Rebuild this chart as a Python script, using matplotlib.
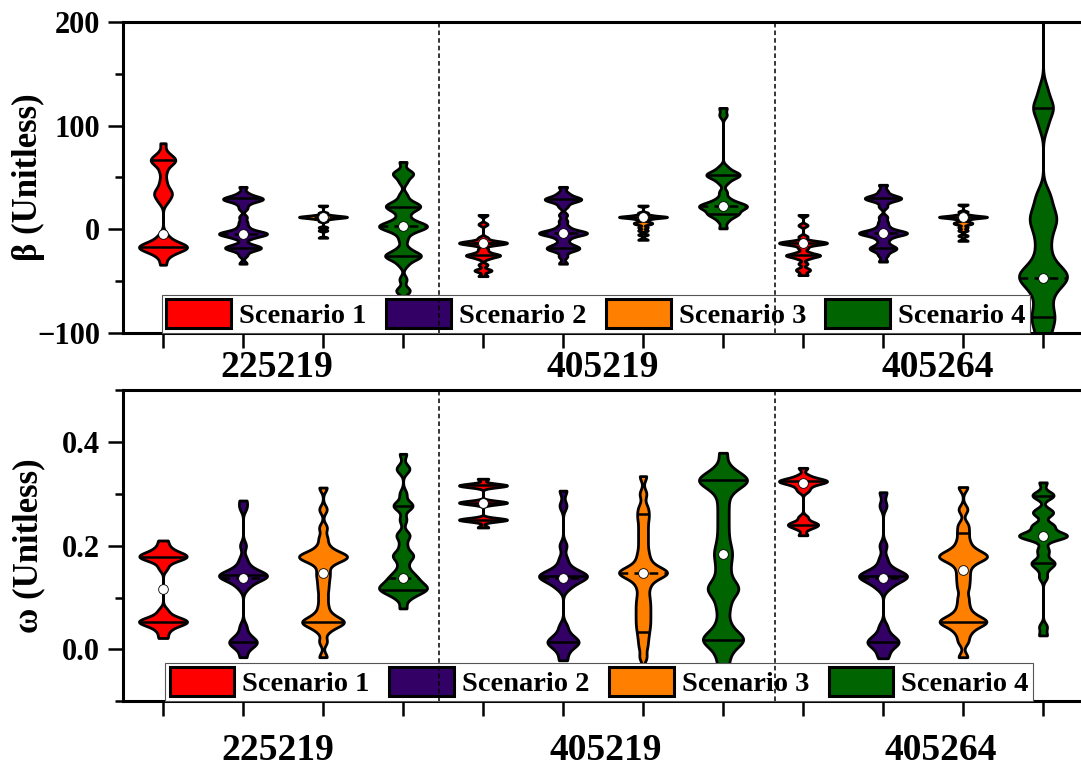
import numpy as np
import matplotlib
matplotlib.use("Agg")
import matplotlib.pyplot as plt
from matplotlib import mlab
from matplotlib.patches import Patch
from matplotlib.ticker import MultipleLocator, FormatStrFormatter

plt.rcParams['font.family'] = ['Liberation Serif', 'DejaVu Serif']
plt.rcParams['font.weight'] = 'bold'

# ---------------- data ----------------
groups = ["225219", "405219", "405264"]
scenarios = ["Scenario 1", "Scenario 2", "Scenario 3", "Scenario 4"]
colors = ["#FF0000", "#330066", "#FF8000", "#006400"]

# beta samples, order: 225219 S1..S4, 405219 S1..S4, 405264 S1..S4
beta_samples = [
    [-34, -27, -23, -21, -20, -19, -18, -17, -17, -16, -16, -15, -14, -12, -9, -5,
     26, 30, 33, 35, 37, 41, 47, 55, 61, 64, 66, 67, 68, 70, 74, 83],
    [41, 35, 32, 31, 30, 29, 29, 28, 27, 24, 20, 12, 7, 3, 0, -2, -3, -4, -4, -4,
     -5, -6, -7, -9, -14, -16, -17, -18, -18, -19, -21, -25, -33],
    [23, 16, 14, 13, 13, 12, 12, 12, 12, 11, 11, 10, 8, 2, -1, -8],
    [65, 55, 54, 52, 46, 33, 27, 24, 23, 22, 21, 19, 15, 10, 7, 5, 4, 3, 3, 2, 1,
     -1, -4, -10, -18, -22, -24, -25, -26, -27, -29, -34, -48, -58, -60, -75],
    [14, 5, -8, -11, -12, -13, -13, -13, -14, -15, -19, -22, -24, -25, -25, -26, -28,
     -34, -39, -40, -45],
    [41, 35, 32, 30, 29, 29, 28, 26, 22, 14, 8, 3, 0, -2, -3, -3, -4, -4, -5, -7,
     -10, -14, -16, -18, -18, -19, -21, -26, -33],
    [23, 16, 14, 13, 12, 12, 12, 12, 11, 10, 7, 6, 5, 2, -1, -5, -10],
    [117, 110, 60, 56, 54, 53, 52, 51, 49, 45, 36, 30, 27, 25, 24, 23, 22,
     22, 21, 20, 18, 16, 15, 14, 12, 8, 1],
    [14, 4, -7, -11, -12, -13, -13, -13, -14, -15, -18, -22, -24, -25, -25, -26, -28,
     -33, -38, -40, -44],
    [43, 37, 33, 31, 30, 30, 29, 27, 22, 12, 7, 3, 0, -2, -3, -3, -4, -4, -5, -7,
     -10, -14, -17, -18, -19, -21, -25, -31],
    [24, 17, 14, 13, 12, 12, 12, 12, 11, 10, 7, 6, 5, 2, -1, -6, -11],
    [230, 135, 122, 117, 113, 100, 36, 28, 20, 14, 10, 6, 0, -8, -17, -26, -33, -38,
     -41, -43, -45, -47, -49, -52, -56, -62, -70, -78, -84, -88, -95, -104, -115,
     -128],
]
beta_lines = [[67, -17], [30, -18], [], [22, -26],
              [-13, -25], [29, -18], [12], [52, 15],
              [-13, -25], [30, -18], [12], [117, -84]]
beta_medians = [None, -4, 12, 3, -13, -3, None, 23, None, -3, None, -47]
beta_means = [-4, -4, 12, 3, -13, -3, 12, 23, -13, -3, 12, -47]

omega_samples = [
    [0.022, 0.035, 0.044, 0.049, 0.051, 0.053, 0.054, 0.056, 0.059, 0.064, 0.075,
     0.157, 0.170, 0.174, 0.177, 0.179, 0.180, 0.182, 0.185, 0.190, 0.198, 0.210],
    [0.287, 0.273, 0.20, 0.175, 0.162, 0.155, 0.150, 0.146, 0.144, 0.143, 0.142, 0.141,
     0.139, 0.136, 0.132, 0.127, 0.118, 0.045, 0.030, 0.022, 0.016, 0.014, 0.012,
     0.008, 0.000, -0.015],
    [0.312, 0.27, 0.235, 0.215, 0.20, 0.19, 0.185, 0.182, 0.180, 0.178, 0.176, 0.174,
     0.170, 0.162, 0.15, 0.14, 0.128, 0.115, 0.10, 0.085, 0.072, 0.064, 0.058, 0.055,
     0.053, 0.051, 0.048, 0.044, 0.035, 0.015, -0.015],
    [0.377, 0.350, 0.346, 0.30, 0.280, 0.277, 0.274, 0.25, 0.222, 0.218, 0.20, 0.184,
     0.181, 0.178, 0.165, 0.152, 0.145, 0.140, 0.136, 0.132, 0.128, 0.124, 0.121,
     0.119, 0.117, 0.115, 0.113, 0.110, 0.105, 0.098, 0.079],
    [0.329, 0.318, 0.317, 0.316, 0.315, 0.314, 0.285, 0.284, 0.283, 0.282, 0.281,
     0.252, 0.251, 0.250, 0.249, 0.248, 0.235],
    [0.306, 0.277, 0.20, 0.175, 0.160, 0.152, 0.147, 0.144, 0.142, 0.141, 0.139,
     0.136, 0.132, 0.126, 0.118, 0.045, 0.030, 0.022, 0.016, 0.014, 0.011, 0.006,
     -0.005, -0.021],
    [0.334, 0.30, 0.275, 0.262, 0.25, 0.235, 0.22, 0.205, 0.19, 0.178, 0.168, 0.160,
     0.155, 0.151, 0.149, 0.148, 0.147, 0.145, 0.141, 0.136, 0.128, 0.118, 0.105,
     0.094, 0.084, 0.074, 0.064, 0.054, 0.044, 0.033, 0.020, 0.005, -0.015, -0.05],
    [0.379, 0.352, 0.340, 0.333, 0.329, 0.327, 0.325, 0.322, 0.318, 0.31, 0.295,
     0.275, 0.255, 0.235, 0.215, 0.198, 0.186, 0.175, 0.16, 0.145, 0.13, 0.122, 0.117,
     0.113, 0.105, 0.09, 0.075, 0.055, 0.040, 0.030, 0.024, 0.020, 0.017, 0.014,
     0.008, -0.005, -0.02, -0.04],
    [0.350, 0.335, 0.329, 0.327, 0.325, 0.324, 0.323, 0.321, 0.318, 0.312, 0.305,
     0.255, 0.246, 0.242, 0.240, 0.238, 0.233, 0.220],
    [0.303, 0.277, 0.20, 0.175, 0.160, 0.152, 0.147, 0.144, 0.142, 0.141, 0.139,
     0.136, 0.132, 0.126, 0.118, 0.045, 0.030, 0.022, 0.016, 0.014, 0.011, 0.006,
     -0.005, -0.017],
    [0.313, 0.27, 0.24, 0.225, 0.21, 0.198, 0.19, 0.185, 0.181, 0.179, 0.177, 0.174,
     0.168, 0.158, 0.145, 0.132, 0.118, 0.10, 0.085, 0.072, 0.064, 0.058, 0.055,
     0.053, 0.051, 0.047, 0.04, 0.03, 0.015, -0.015],
    [0.322, 0.300, 0.297, 0.294, 0.268, 0.264, 0.260, 0.241, 0.238, 0.235, 0.224,
     0.221, 0.220, 0.219, 0.218, 0.216, 0.213, 0.195, 0.185, 0.170, 0.167, 0.164,
     0.155, 0.139, 0.044, 0.027],
]
omega_lines = [[0.179, 0.053], [0.143, 0.014], [0.053], [0.277, 0.115],
               [0.316, 0.283, 0.250], [0.141, 0.014], [0.261, 0.033], [0.327, 0.018],
               [0.325, 0.240], [0.141, 0.014], [0.225, 0.053], [0.296, 0.166]]
omega_medians = [None, 0.137, None, 0.137, None, 0.137, 0.148, None, None, 0.137, None, None]
omega_means = [0.116, 0.137, 0.148, 0.137, 0.283, 0.137, 0.148, 0.184, 0.320, 0.137,
               0.154, 0.218]

positions = np.arange(1, 13)
separators = [4.45, 8.65]
group_label_x_top = [2.425, 6.5, 10.69]
group_label_x_bot = [2.44, 6.53, 10.72]

# ---------------- figure ----------------
W, H = 1081, 767
fig = plt.figure(figsize=(W / 100, H / 100), dpi=100)
ax1 = fig.add_axes([123 / W, 1 - 333.3 / H, 960 / W, 311.6 / H])
ax2 = fig.add_axes([123 / W, 1 - 701.3 / H, 960 / W, 311.3 / H])

BW = 0.1


def draw_panel(ax, samples, lines, medians, means, bw):
    for i, d in enumerate(samples):
        pos = positions[i]
        col = colors[i % 4]
        vp = ax.violinplot([d], positions=[pos], widths=0.6, bw_method=bw,
                           showextrema=False, points=600)
        body = vp['bodies'][0]
        body.set_facecolor(col)
        body.set_edgecolor('black')
        body.set_linewidth(2.0)
        body.set_alpha(1)
        body.set_zorder(2)
        kde = mlab.GaussianKDE(np.asarray(d, float), bw)
        coords = np.linspace(min(d), max(d), 600)
        vmax = kde.evaluate(coords).max()

        def hw(y):
            return 0.3 * kde.evaluate(np.array([y]))[0] / vmax

        for y in lines[i]:
            w = hw(y)
            ax.plot([pos - w, pos + w], [y, y], color='black', lw=1.8,
                    solid_capstyle='butt', zorder=3)
        if medians[i] is not None:
            m = medians[i]
            w = hw(m)
            ax.plot([pos - w, pos + w], [m, m], color='black', lw=1.8,
                    ls=(0, (3.5, 2.5)), zorder=3)
        ax.plot(pos, means[i], 'o', mfc='white', mec='black', ms=7, mew=0.6, zorder=4)


draw_panel(ax1, beta_samples, beta_lines, beta_medians, beta_means, BW)
draw_panel(ax2, omega_samples, omega_lines, omega_medians, omega_means, BW)

handles = [Patch(facecolor=c, edgecolor='black', lw=2.2, joinstyle='round', label=s)
           for c, s in zip(colors, scenarios)]

for ax, ylim, major, minor, ylabel, lab_y, lab_x, leg_x in [
        (ax1, (-100, 200), 100, 50, "β (Unitless)", -0.141, group_label_x_top, 0.0406),
        (ax2, (-0.1, 0.5), 0.2, 0.1, "ω (Unitless)", -0.1886, group_label_x_bot, 0.044)]:
    ax.set_xlim(0.5, 12.5)
    ax.set_ylim(*ylim)
    ax.set_xticks(positions)
    ax.set_xticklabels([])
    ax.yaxis.set_major_locator(MultipleLocator(major))
    ax.yaxis.set_minor_locator(MultipleLocator(minor))
    if major < 1:
        ax.yaxis.set_major_formatter(FormatStrFormatter('%.1f'))
    ax.tick_params(axis='both', which='major', direction='out', length=10.5, width=1.8,
                   labelsize=22, pad=6)
    ax.tick_params(axis='y', which='minor', direction='out', length=5.5, width=1.8)
    ax.tick_params(axis='x', which='minor', length=0)
    for sp in ax.spines.values():
        sp.set_linewidth(2.2)
    ax.spines['right'].set_visible(False)
    for lab in ax.get_yticklabels():
        lab.set_fontweight('bold')
    ax.set_ylabel(ylabel, fontsize=25, fontweight='bold')
    ax.yaxis.set_label_coords(-0.081, 0.5)
    for sx in separators:
        ax.axvline(sx, color='black', lw=1.1, ls=(0, (3, 2)), zorder=6)
    for gx, g in zip(lab_x, groups):
        ax.text(gx, lab_y, g, transform=ax.get_xaxis_transform(), ha='center',
                va='baseline', fontsize=27, fontweight='bold')
    leg = ax.legend(handles=handles, ncol=4, loc='lower left', bbox_to_anchor=(leg_x, 0),
                    borderaxespad=0, fontsize=20.5, handlelength=2.28, handleheight=1.15,
                    handletextpad=0.28, columnspacing=0.68, borderpad=0.15,
                    fancybox=False, framealpha=1, edgecolor='#555555')
    leg.get_frame().set_linewidth(0.8)
    leg.set_zorder(5)

fig.savefig("out.png", dpi=100)
